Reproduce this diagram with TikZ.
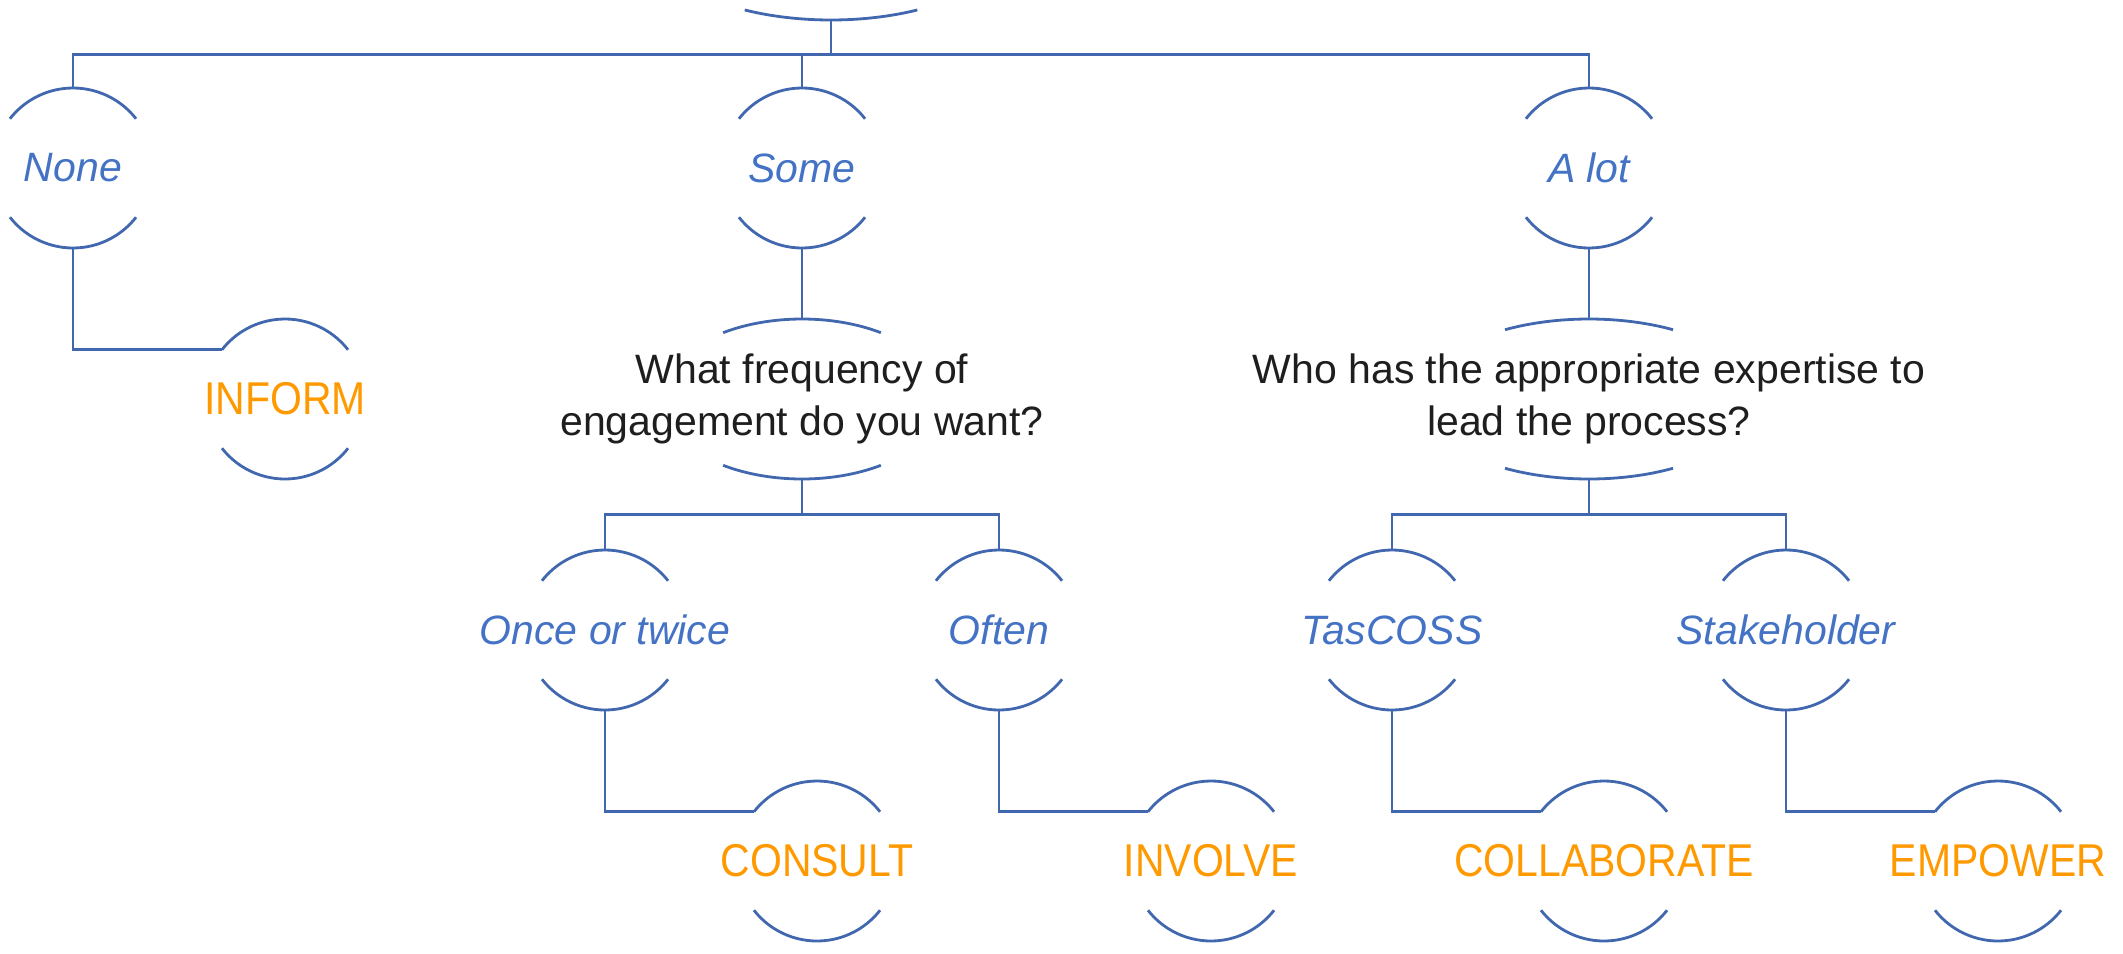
\documentclass[tikz,border=0pt]{standalone}
\usepackage{fontspec}
\setmainfont{Liberation Sans}
\newfontfamily\capsfont{Liberation Sans}[FakeStretch=0.89]
\usetikzlibrary{positioning}

\definecolor{linkblue}{RGB}{65,103,174}
\definecolor{optblue}{RGB}{68,114,196}
\definecolor{levelorange}{RGB}{255,153,0}
\definecolor{askgray}{RGB}{30,30,30}

\tikzset{
  link/.style={draw=linkblue, line width=1.4pt},
  opt/.style={rectangle, inner sep=0pt, minimum height=80pt, text=optblue,
    font=\fontsize{20.5}{24}\selectfont\itshape},
  level/.style={rectangle, inner sep=0pt, minimum height=80pt, text=levelorange,
    font=\fontsize{23}{27}\selectfont\capsfont},
  ask/.style={rectangle, inner sep=0pt, minimum height=80pt, align=center,
    text=askgray, font=\fontsize{20.5}{26}\selectfont},
}

\begin{document}
\begin{tikzpicture}[node distance=115.5pt, on grid]
  \useasboundingbox (0,0) rectangle (1061.5pt,-476.5pt);
  \clip (0,0) rectangle (1061.5pt,-476.5pt);

  % question tree
  \node[ask] (root) at (415.5pt,30pt) {};
  \node[opt] (none) [below left=114pt and 379pt of root] {None};
  \node[opt] (some) [below left=114pt and 14.5pt of root] {Some};
  \node[opt] (alot) [below right=114pt and 379pt of root] {A lot};
  \node[ask] (q1) [below=of some] {What frequency of\\engagement do you want?};
  \node[ask] (q2) [below=of alot] {Who has the appropriate expertise to\\lead the process?};
  \node[opt] (once) [below left=115.5pt and 98.5pt of q1] {Once or twice};
  \node[opt] (often) [below right=115.5pt and 98.5pt of q1] {Often};
  \node[opt] (tascoss) [below left=115.5pt and 98.5pt of q2] {TasCOSS};
  \node[opt] (stake) [below right=115.5pt and 98.5pt of q2] {Stakeholder};

  % engagement levels
  \node[level] (inform) [below right=115.5pt and 106pt of none] {INFORM};
  \node[level] (consult) [below right=115.5pt and 106pt of once] {CONSULT};
  \node[level] (involve) [below right=115.5pt and 106pt of often] {INVOLVE};
  \node[level] (collab) [below right=115.5pt and 106pt of tascoss] {COLLABORATE};
  \node[level] (empower) [below right=115.5pt and 106pt of stake] {EMPOWER};

  % caps above and below each answer
  \foreach \n in {none,some,alot,once,often,tascoss,stake,inform,consult,involve,collab,empower}
    \draw[link] ([shift={(38:40pt)}]\n.center) arc[start angle=38, end angle=142, radius=40pt]
                ([shift={(218:40pt)}]\n.center) arc[start angle=218, end angle=322, radius=40pt];

  % flatter caps for the questions
  \draw[link] ([shift={(241:89pt and 40pt)}]root.center) arc[start angle=241, end angle=299, x radius=89pt, y radius=40pt];
  \draw[link] ([shift={(56:70.5pt and 40pt)}]q1.center) arc[start angle=56, end angle=124, x radius=70.5pt, y radius=40pt]
              ([shift={(236:70.5pt and 40pt)}]q1.center) arc[start angle=236, end angle=304, x radius=70.5pt, y radius=40pt];
  \draw[link] ([shift={(60:84pt and 40pt)}]q2.center) arc[start angle=60, end angle=120, x radius=84pt, y radius=40pt]
              ([shift={(240:84pt and 40pt)}]q2.center) arc[start angle=240, end angle=300, x radius=84pt, y radius=40pt];

  % branches
  \draw[link] (root.south) -- ++(0,-17pt) coordinate (j0);
  \draw[link] (none.north) |- (j0) -| (alot.north);
  \draw[link] (some.north) -- (some.north |- j0);
  \draw[link] (some.south) -- (q1.north);
  \draw[link] (alot.south) -- (q2.north);
  \draw[link] (q1.south) -- ++(0,-17.5pt) coordinate (j1);
  \draw[link] (once.north) |- (j1) -| (often.north);
  \draw[link] (q2.south) -- ++(0,-17.5pt) coordinate (j2);
  \draw[link] (tascoss.north) |- (j2) -| (stake.north);

  % answers leading to a level
  \draw[link] (none.south) |- ([shift={(142:40pt)}]inform.center);
  \draw[link] (once.south) |- ([shift={(142:40pt)}]consult.center);
  \draw[link] (often.south) |- ([shift={(142:40pt)}]involve.center);
  \draw[link] (tascoss.south) |- ([shift={(142:40pt)}]collab.center);
  \draw[link] (stake.south) |- ([shift={(142:40pt)}]empower.center);
\end{tikzpicture}
\end{document}
